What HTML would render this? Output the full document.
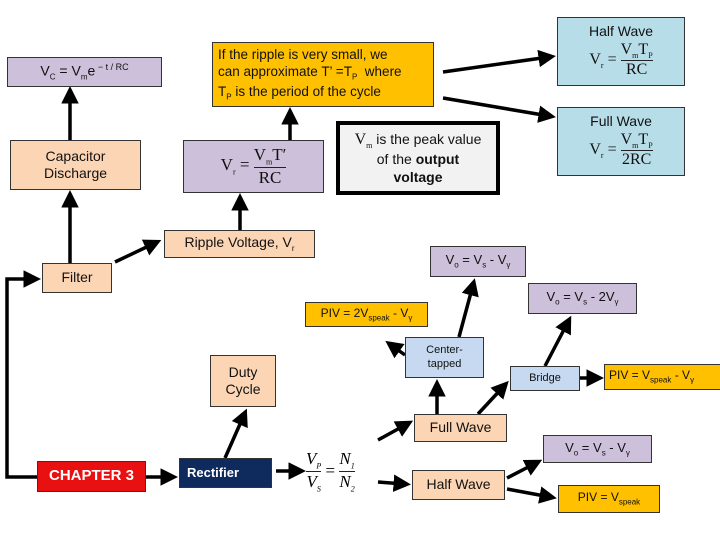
<!DOCTYPE html>
<html><head><meta charset="utf-8"><style>
body{margin:0;width:720px;height:540px;background:#fff;position:relative;overflow:hidden;font-family:"Liberation Sans",sans-serif;}
.b{position:absolute;box-sizing:border-box;border:1.5px solid #333;display:flex;align-items:center;justify-content:center;text-align:center;font-size:13px;line-height:1.25;color:#111;}
.p{background:#fcd5b4}.u{background:#ccc0da}.y{background:#ffc000}.c{background:#b7dde8}.lb{background:#c6d9f1}
.s{font-family:"Liberation Serif",serif;font-size:17px}
.fr{display:inline-flex;flex-direction:column;vertical-align:middle;text-align:center;line-height:1.15}
.fr span:first-child{border-bottom:1px solid #222}
sub{font-size:8px}
svg{position:absolute;left:0;top:0}
</style></head><body>
<svg width="720" height="540"><defs><marker id="a" markerWidth="5" markerHeight="5" refX="3" refY="2.5" orient="auto"><path d="M0,0L5,2.5L0,5z" fill="#000"/></marker></defs>
<g stroke="#000" stroke-width="3.5" fill="none" marker-end="url(#a)">
<path d="M37,477H7V279H34" />
<line x1="70" y1="263" x2="70" y2="197"/>
<line x1="70" y1="140" x2="70" y2="93"/>
<line x1="115" y1="262" x2="155" y2="243"/>
<line x1="240" y1="230" x2="240" y2="200"/>
<line x1="290" y1="140" x2="290" y2="114"/>
<line x1="443" y1="72" x2="549" y2="57"/>
<line x1="443" y1="98" x2="549" y2="116"/>
<line x1="146" y1="477" x2="171" y2="477"/>
<line x1="225" y1="458" x2="244" y2="415"/>
<line x1="276" y1="471" x2="299" y2="471"/>
<line x1="378" y1="440" x2="407" y2="424"/>
<line x1="378" y1="482" x2="404" y2="484"/>
<line x1="437" y1="414" x2="437" y2="386"/>
<line x1="478" y1="414" x2="504" y2="386"/>
<line x1="405" y1="355" x2="391" y2="345"/>
<line x1="459" y1="337" x2="473" y2="285"/>
<line x1="545" y1="366" x2="568" y2="322"/>
<line x1="580" y1="378" x2="597" y2="378"/>
<line x1="507" y1="478" x2="536" y2="463"/>
<line x1="507" y1="489" x2="550" y2="497"/>
</g></svg>
<div class="b u" style="left:7px;top:57px;width:155px;height:30px;font-size:14px"><div>V<sub>C</sub> = V<sub>m</sub>e<sup style="font-size:9px"> − t / RC</sup></div></div>
<div class="b y" style="left:212px;top:42px;width:222px;height:65px;justify-content:flex-start;text-align:left;padding-left:5px;font-size:13.5px;line-height:1.3"><div>If the ripple is very small, we<br>can approximate T’ =T<sub>P</sub>&nbsp; where<br>T<sub>P</sub> is the period of the cycle</div></div>
<div class="b c s" style="left:557px;top:17px;width:128px;height:69px;flex-direction:column;font-size:16px"><div style="font-family:'Liberation Sans',sans-serif;font-size:14px">Half Wave</div><div>V<sub>r</sub> = <span class="fr"><span>V<sub>m</sub>T<sub>P</sub></span><span>RC</span></span></div></div>
<div class="b c s" style="left:557px;top:107px;width:128px;height:69px;flex-direction:column;font-size:16px"><div style="font-family:'Liberation Sans',sans-serif;font-size:14px">Full Wave</div><div>V<sub>r</sub> = <span class="fr"><span>V<sub>m</sub>T<sub>P</sub></span><span>2RC</span></span></div></div>
<div class="b" style="left:336px;top:121px;width:164px;height:74px;background:#f2f2f2;border:4px solid #000;font-size:14px"><div><span class="s" style="font-size:16px">V<sub>m</sub></span> is the peak value<br>of the <b>output</b><br><b>voltage</b></div></div>
<div class="b p" style="left:10px;top:140px;width:131px;height:50px;font-size:14px"><div>Capacitor<br>Discharge</div></div>
<div class="b u s" style="left:183px;top:140px;width:141px;height:53px"><div>V<sub>r</sub> = <span class="fr"><span>V<sub>m</sub>T′</span><span>RC</span></span></div></div>
<div class="b p" style="left:164px;top:230px;width:151px;height:28px;font-size:14px"><div>Ripple Voltage, V<sub>r</sub></div></div>
<div class="b p" style="left:42px;top:263px;width:70px;height:30px;font-size:14px"><div>Filter</div></div>
<div class="b u" style="left:430px;top:246px;width:96px;height:31px"><div>V<sub>o</sub> = V<sub>s</sub> - V<sub>γ</sub></div></div>
<div class="b u" style="left:528px;top:283px;width:109px;height:31px"><div>V<sub>o</sub> = V<sub>s</sub> - 2V<sub>γ</sub></div></div>
<div class="b y" style="left:305px;top:302px;width:123px;height:25px;font-size:12px"><div>PIV = 2V<sub>speak</sub> - V<sub>γ</sub></div></div>
<div class="b lb" style="left:405px;top:337px;width:79px;height:41px;font-size:11px"><div>Center-<br>tapped</div></div>
<div class="b p" style="left:210px;top:355px;width:66px;height:52px;font-size:14px"><div>Duty<br>Cycle</div></div>
<div class="b lb" style="left:510px;top:366px;width:70px;height:25px;font-size:11px"><div>Bridge</div></div>
<div class="b y" style="left:604px;top:364px;width:120px;height:26px;font-size:12px;justify-content:flex-start;padding-left:4px"><div>PIV = V<sub>speak</sub> - V<sub>γ</sub></div></div>
<div class="b p" style="left:414px;top:414px;width:93px;height:28px;font-size:14px"><div>Full Wave</div></div>
<div class="b u" style="left:543px;top:435px;width:109px;height:28px"><div>V<sub>o</sub> = V<sub>s</sub> - V<sub>γ</sub></div></div>
<div class="b" style="left:37px;top:461px;width:109px;height:31px;background:#e81010;color:#fff;font-weight:bold;font-size:15px"><div>CHAPTER 3</div></div>
<div class="b" style="left:179px;top:458px;width:93px;height:30px;background:#0f2b5e;color:#fff;font-weight:bold;font-size:13px;justify-content:flex-start;padding-left:7px"><div>Rectifier</div></div>
<div style="position:absolute;left:306px;top:449px;font-family:'Liberation Serif',serif;font-size:17px;font-style:italic;display:flex;align-items:center">
<span class="fr"><span>V<sub>P</sub></span><span>V<sub>S</sub></span></span>&nbsp;<span style="font-style:normal">=</span>&nbsp;<span class="fr"><span>N<sub>1</sub></span><span>N<sub>2</sub></span></span></div>
<div class="b p" style="left:412px;top:470px;width:93px;height:30px;font-size:14px"><div>Half Wave</div></div>
<div class="b y" style="left:558px;top:485px;width:102px;height:28px;font-size:12px"><div>PIV = V<sub>speak</sub></div></div>
</body></html>
